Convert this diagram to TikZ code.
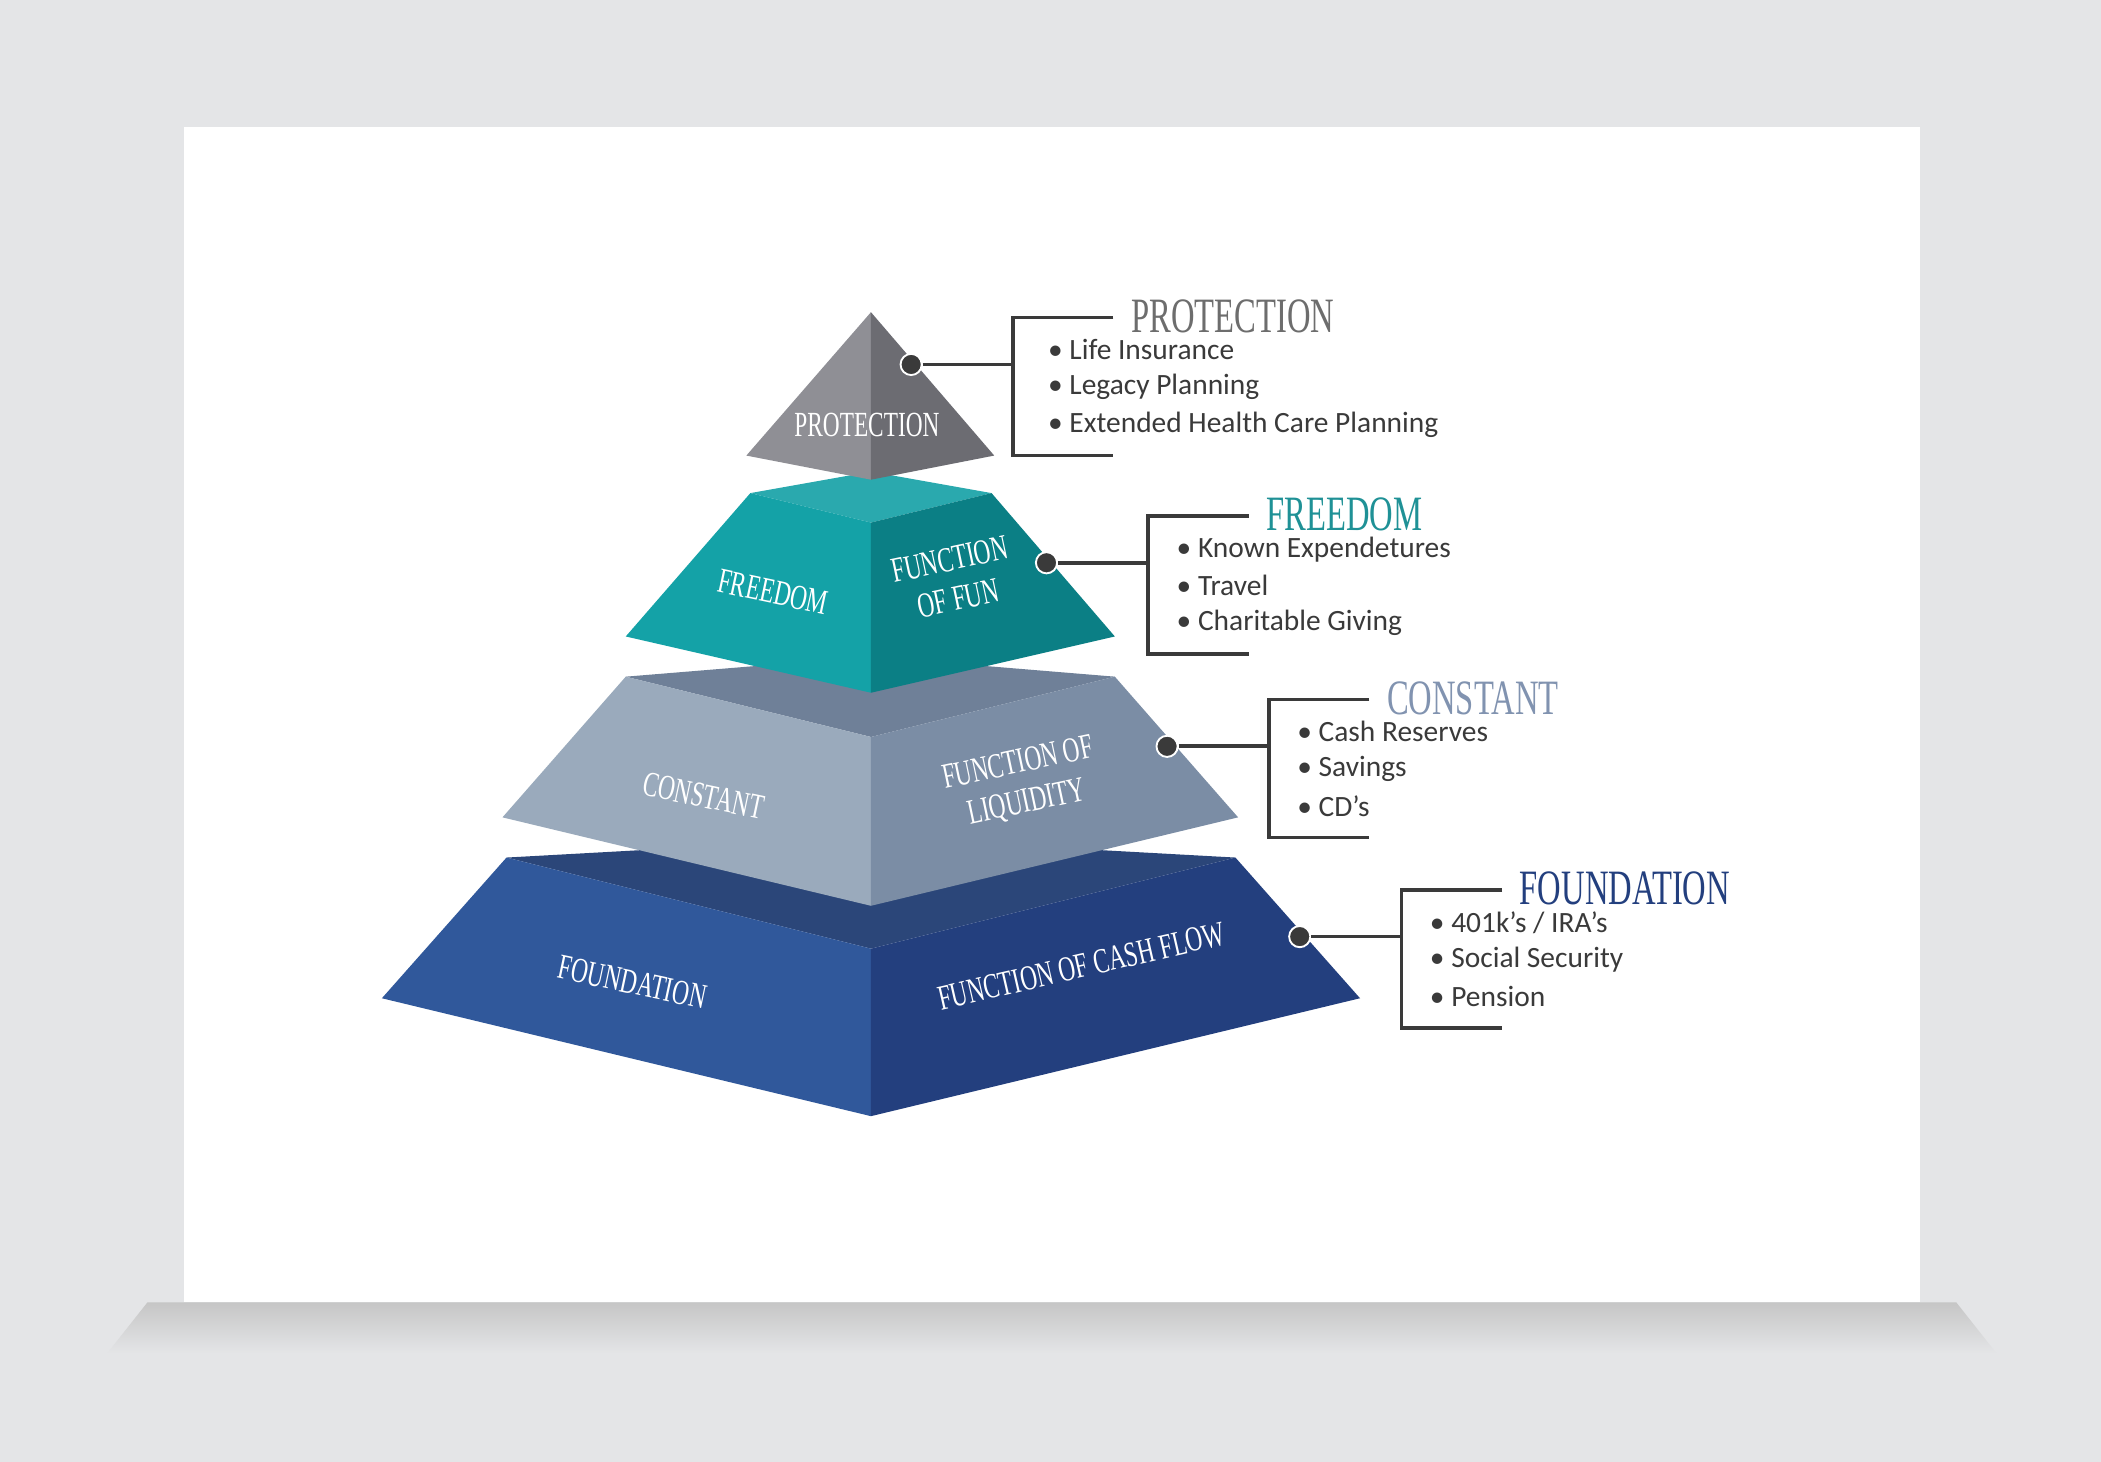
\documentclass[tikz,border=0pt]{standalone}
\usepackage{fontspec}
\setmainfont{Carlito}
\newfontfamily\titlefont[FakeStretch=0.66]{Liberation Serif}
\usetikzlibrary{positioning,calc}
\definecolor{bg}{HTML}{E4E5E7}
\definecolor{pl}{HTML}{8F8F95}
\definecolor{pr}{HTML}{6C6C72}
\definecolor{ft}{HTML}{2AA9AE}
\definecolor{fl}{HTML}{14A2A7}
\definecolor{fr}{HTML}{0B7F85}
\definecolor{ct}{HTML}{6F8098}
\definecolor{cl}{HTML}{9AAABC}
\definecolor{cr}{HTML}{7B8DA5}
\definecolor{dt}{HTML}{2B4679}
\definecolor{dl}{HTML}{30589B}
\definecolor{dr}{HTML}{233F7E}
\definecolor{tprot}{HTML}{6D6D6D}
\definecolor{tfree}{HTML}{1F9196}
\definecolor{tcons}{HTML}{8193B0}
\definecolor{tfound}{HTML}{233F7E}
\definecolor{ink}{HTML}{3A3A3A}
\tikzset{
  face/.style={draw=none},
  lbl/.style={text=white, font=\titlefont\fontsize{15}{17}\selectfont, align=center},
  ttl/.style={anchor=west, font=\titlefont\fontsize{21}{21}\selectfont},
  item/.style={anchor=west, text=ink, font=\fontsize{12.5}{12.5}\selectfont},
  dot/.style={circle, fill=ink, draw=white, line width=0.8pt, inner sep=0pt, minimum size=9pt},
  brk/.style={draw=ink, line width=1.6pt}
}
\begin{document}
\begin{tikzpicture}[x=0.02cm, y=-0.02cm]
    \useasboundingbox (0,0) rectangle (1568,1091);
    \fill [bg] (0,0) rectangle (1568,1091);
    % card and its shadow
    \shade [top color=gray!45, bottom color=bg] (110,972) -- (1460,972) -- (1490,1010) -- (80,1010) -- cycle;
    \fill [white] (137,95) rectangle (1433,972);

    % foundation
    \fill [face, dt] (378,640) -- (650,625) -- (922,640) -- (650,708) -- cycle;
    \fill [face, dl] (378,640) -- (650,708) -- (650,833) -- (285,745) -- cycle;
    \fill [face, dr] (650,708) -- (922,640) -- (1015,745) -- (650,833) -- cycle;
    % constant
    \fill [face, ct] (467,505) -- (650,490) -- (832,505) -- (650,550) -- cycle;
    \fill [face, cl] (467,505) -- (650,550) -- (650,676) -- (375,610) -- cycle;
    \fill [face, cr] (650,550) -- (832,505) -- (924,610) -- (650,676) -- cycle;
    % freedom
    \fill [face, ft] (560,368) -- (650,352) -- (740,368) -- (650,390) -- cycle;
    \fill [face, fl] (560,368) -- (650,390) -- (650,517) -- (467,475) -- cycle;
    \fill [face, fr] (650,390) -- (740,368) -- (832,475) -- (650,517) -- cycle;
    % protection
    \fill [face, pl] (650,233) -- (650,358) -- (557,340) -- cycle;
    \fill [face, pr] (650,233) -- (742,340) -- (650,358) -- cycle;

    \node [lbl] (protL) at (647,317) {PROTECTION};
    \node [lbl, rotate=-12] (freeL) at (577,442) {FREEDOM};
    \node [lbl, rotate=12] (freeR) at (712,432) {FUNCTION\\OF FUN};
    \node [lbl, rotate=-12] (consL) at (525,594) {CONSTANT};
    \node [lbl, rotate=12] (consR) at (763,585) {FUNCTION OF\\LIQUIDITY};
    \node [lbl, rotate=-12] (foundL) at (472,733) {FOUNDATION};
    \node [lbl, rotate=13] (foundR) at (807,721) {FUNCTION OF CASH FLOW};

    % callouts
    \foreach \nm/\dx/\dy/\col/\ttext in {prot/680/272/tprot/PROTECTION, free/781/420/tfree/FREEDOM, cons/871/557/tcons/CONSTANT, found/970/699/tfound/FOUNDATION}{
        \node [dot] (\nm D) at (\dx,\dy) {};
        \coordinate (\nm J) at (\dx+76,\dy);
        \coordinate (\nm T) at (\dx+76,\dy-35);
        \coordinate (\nm B) at (\dx+76,\dy+68);
        \draw [brk] (\nm D) -- (\nm J);
        \draw [brk] ($(\nm T)+(75,0)$) -- (\nm T) -- (\nm B) -- ++(75,0);
        \node [ttl, text=\col] (\nm H) at (\dx+158,\dy-36) {\ttext};
    }
    \node [item] (p1) at (776,261) {• Life Insurance};
    \node [item] (p2) at (776,289) {• Legacy Planning};
    \node [item] (p3) at (776,317) {• Extended Health Care Planning};
    \node [item] (f1) at (872,410) {• Known Expendetures};
    \node [item] (f2) at (872,437) {• Travel};
    \node [item] (f3) at (872,465) {• Charitable Giving};
    \node [item] (c1) at (962,546) {• Cash Reserves};
    \node [item] (c2) at (962,574) {• Savings};
    \node [item] (c3) at (962,602) {• CD’s};
    \node [item] (d1) at (1061,689) {• 401k’s / IRA’s};
    \node [item] (d2) at (1061,716) {• Social Security};
    \node [item] (d3) at (1061,744) {• Pension};
\end{tikzpicture}
\end{document}
